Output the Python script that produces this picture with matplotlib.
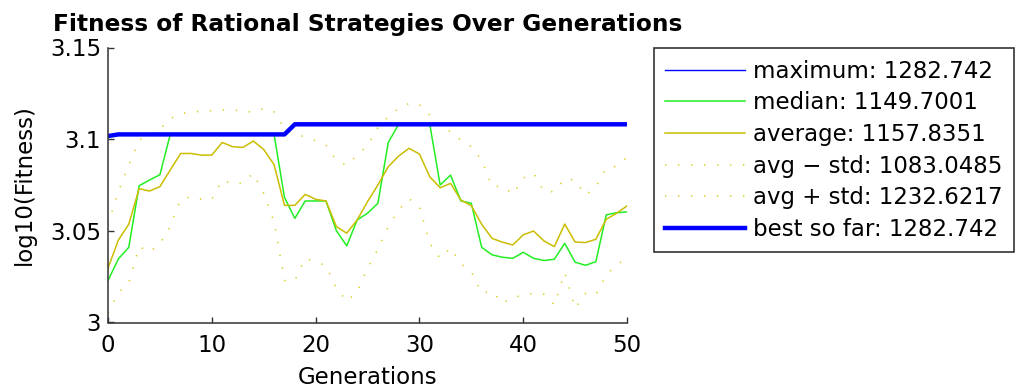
import numpy as np
import matplotlib
matplotlib.use('Agg')
import matplotlib.pyplot as plt

# log10 of fitness per generation
generations = np.arange(0, 51)

best_so_far = [3.1017] + [3.1026] * 17 + [3.1081] * 33
maximum = list(best_so_far)

median = [3.0229, 3.0347, 3.0410, 3.0746, 3.0777, 3.0806,
          3.1026, 3.1026, 3.1026, 3.1026, 3.1026, 3.1026, 3.1026, 3.1026, 3.1026, 3.1026, 3.1026,
          3.0683, 3.0568, 3.0663, 3.0663, 3.0663, 3.0501, 3.0418, 3.0559, 3.0596, 3.0650, 3.0982,
          3.1081, 3.1081, 3.1081, 3.1081,
          3.0750, 3.0804, 3.0663, 3.0650, 3.0410, 3.0369, 3.0356, 3.0350, 3.0383, 3.0350,
          3.0338, 3.0345, 3.0432, 3.0329, 3.0312, 3.0332, 3.0587, 3.0599, 3.0603]

average = [3.0296, 3.0450, 3.0536, 3.0730, 3.0717, 3.0741, 3.0832, 3.0922, 3.0922, 3.0913,
           3.0913, 3.0982, 3.0959, 3.0955, 3.0990, 3.0944, 3.0861, 3.0639, 3.0639, 3.0699,
           3.0672, 3.0663, 3.0523, 3.0487, 3.0559, 3.0659, 3.0750, 3.0850, 3.0908, 3.0950,
           3.0919, 3.0795, 3.0735, 3.0759, 3.0668, 3.0637, 3.0536, 3.0459, 3.0438, 3.0423,
           3.0478, 3.0499, 3.0445, 3.0414, 3.0537, 3.0439, 3.0436, 3.0454, 3.0563, 3.0596,
           3.0636]

avg_plus_std = [3.0536, 3.0714, 3.0859, 3.0995, 3.1022, 3.1053, 3.1113, 3.1137, 3.1150, 3.1151,
                3.1155, 3.1159, 3.1159, 3.1155, 3.1146, 3.1168, 3.1148, 3.1059, 3.1026, 3.1013,
                3.0991, 3.0966, 3.0886, 3.0857, 3.0912, 3.0965, 3.1062, 3.1122, 3.1168, 3.1195,
                3.1189, 3.1131, 3.1077, 3.1040, 3.0995, 3.0959, 3.0886, 3.0741, 3.0745, 3.0699,
                3.0788, 3.0814, 3.0714, 3.0714, 3.0784, 3.0777, 3.0695, 3.0739, 3.0841, 3.0852,
                3.0901]

avg_minus_std = [3.0051, 3.0163, 3.0214, 3.0414, 3.0385, 3.0429, 3.0523, 3.0672, 3.0686, 3.0672,
                 3.0672, 3.0777, 3.0755, 3.0761, 3.0814, 3.0705, 3.0550, 3.0229, 3.0229, 3.0350,
                 3.0332, 3.0309, 3.0187, 3.0116, 3.0165, 3.0296, 3.0399, 3.0523, 3.0614, 3.0675,
                 3.0632, 3.0432, 3.0350, 3.0407, 3.0320, 3.0278, 3.0160, 3.0171, 3.0105, 3.0136,
                 3.0149, 3.0160, 3.0154, 3.0096, 3.0272, 3.0078, 3.0158, 3.0151, 3.0260, 3.0314,
                 3.0350]

labels = ['maximum: 1282.742', 'median: 1149.7001', 'average: 1157.8351',
          'avg \u2212 std: 1083.0485', 'avg + std: 1232.6217', 'best so far: 1282.742']
title = 'Fitness of Rational Strategies Over Generations'

plt.rcParams['font.family'] = 'DejaVu Sans'
W, H = 1015, 390
fig = plt.figure(figsize=(W / 100, H / 100), dpi=100)

# pick font sizes so the text widths match the reference (pixels)
fig.canvas.draw()
r = fig.canvas.get_renderer()
p1 = fig.text(0, 0, labels[0], fontsize=16)
p2 = fig.text(0, 0, title, fontsize=16, fontweight='bold')
b1 = p1.get_window_extent(r)
b2 = p2.get_window_extent(r)
fs = 16 * 239 / b1.width
tfs = 16 * 630 / b2.width
row_h = b1.height * fs / 16
p1.remove()
p2.remove()
plt.rcParams['font.size'] = fs
fs_px = fs * 100 / 72

ax = fig.add_axes([108 / W, (H - 322.5) / H, 519 / W, 275 / H])

dots = (0, (0.8, 7))
ax.plot(generations, maximum, color='#0000ff', lw=1, label=labels[0])
ax.plot(generations, median, color='#22ee22', lw=1.1, label=labels[1])
ax.plot(generations, average, color='#cbbd00', lw=1.1, label=labels[2])
ax.plot(generations, avg_minus_std, color='#d9cf2a', lw=1.2, ls=dots, label=labels[3])
ax.plot(generations, avg_plus_std, color='#d9cf2a', lw=1.2, ls=dots, label=labels[4])
ax.plot(generations, best_so_far, color='#0000ff', lw=3.2, label=labels[5])

ax.set_xlim(0, 50)
ax.set_ylim(3, 3.15)
ax.set_xticks([0, 10, 20, 30, 40, 50])
ax.set_yticks([3, 3.05, 3.1, 3.15])
ax.set_yticklabels(['3', '3.05', '3.1', '3.15'])
ax.spines['top'].set_visible(False)
ax.spines['right'].set_visible(False)
for s in ['left', 'bottom']:
    ax.spines[s].set_color('#333333')
    ax.spines[s].set_linewidth(1.1)
ax.tick_params(direction='in', length=4, width=1, color='#333333')
ax.tick_params(axis='x', pad=8)
ax.tick_params(axis='y', pad=5)

ax.set_xlabel('Generations')
ax.xaxis.label.set_va('baseline')
ax.xaxis.set_label_coords(0.5, -(384 - 322.5) / 275)
ax.set_ylabel('log10(Fitness)')
ax.yaxis.set_label_coords(-(108 - 36) / 519, 0.5)
ax.set_title(title, fontweight='bold', fontsize=tfs, pad=12)


def make_legend(spacing):
    lg = ax.legend(loc='upper left', bbox_to_anchor=(654 / W, 1 - 48.3 / H),
                   bbox_transform=fig.transFigure, borderaxespad=0, fancybox=False,
                   edgecolor='black', handlelength=80 / fs_px, handletextpad=8 / fs_px,
                   labelspacing=spacing, borderpad=0.5)
    lg.get_frame().set_linewidth(1.2)
    return lg


# legend box in the reference is 204 px tall
ls0 = (32.3 - row_h) / fs_px
leg = make_legend(ls0)
fig.canvas.draw()
h = leg.get_window_extent(fig.canvas.get_renderer()).height
leg.remove()
leg = make_legend(ls0 + (204 - h) / (5 * fs_px))

fig.savefig('out.png', dpi=100)
